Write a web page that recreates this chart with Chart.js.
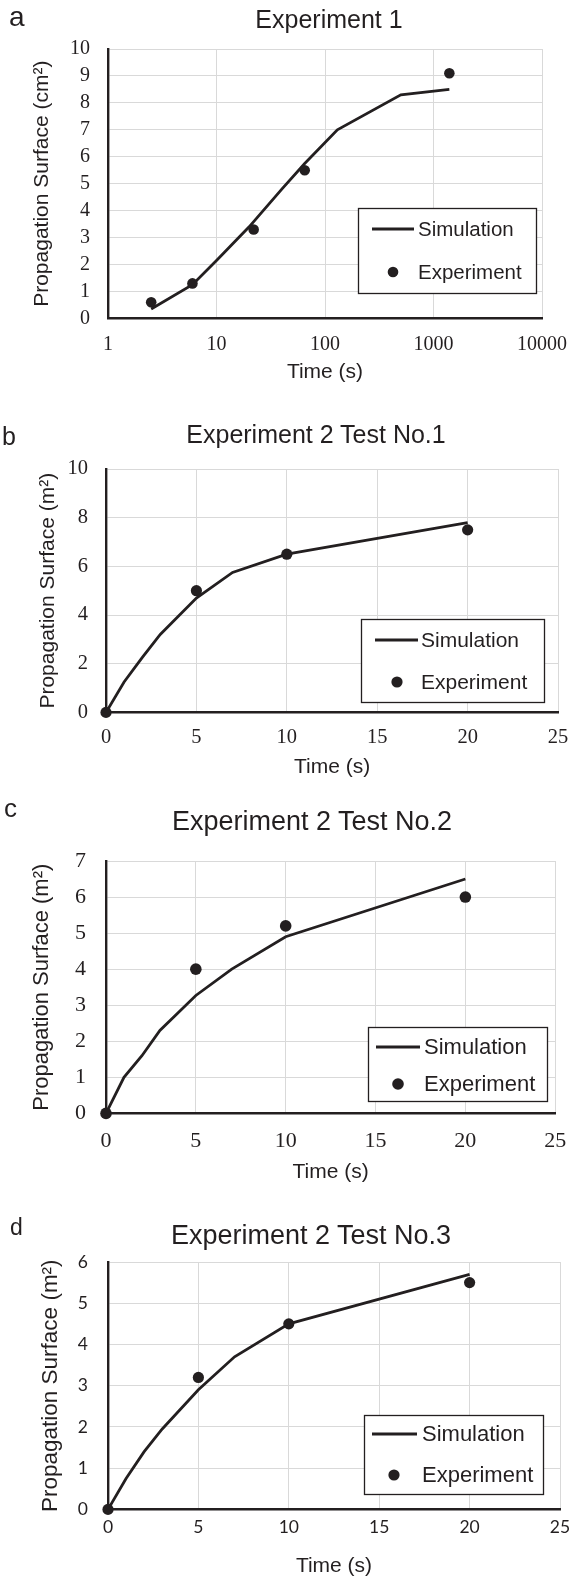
<!DOCTYPE html>
<html><head><meta charset="utf-8">
<script src="https://cdn.jsdelivr.net/npm/chart.js@4.4.0/dist/chart.umd.min.js"></script>
<style>
html,body{margin:0;padding:0;background:#fff}
body{width:581px;height:1579px;position:relative;overflow:hidden;font-family:"Liberation Sans",Arial,sans-serif;color:#231f20}
canvas{position:absolute;left:0}
.t{position:absolute;white-space:nowrap;line-height:1}
</style></head><body>
<script>
// ---------- DATA ----------
// Panel a: Experiment 1 (log time axis)
const ticksA_x = [1, 10, 100, 1000, 10000];
const simA_t = [2.5, 6, 10, 20, 40, 65, 130, 500, 1400];
const simA_s = [0.35, 1.25, 2.15, 3.4, 4.8, 5.75, 7.0, 8.3, 8.5];
const expA_t = [2.5, 6, 22, 65, 1400];
const expA_s = [0.6, 1.3, 3.3, 5.5, 9.1];
// Panel b: Experiment 2 Test No.1
const simB_t = [0, 1, 2, 3, 5, 7, 10, 20];
const simB_s = [0, 1.25, 2.25, 3.2, 4.7, 5.75, 6.5, 7.8];
const expB_t = [0, 5, 10, 20];
const expB_s = [0, 5.0, 6.5, 7.5];
// Panel c: Experiment 2 Test No.2
const simC_t = [0, 1, 2, 3, 5, 7, 10, 20];
const simC_s = [0, 1.0, 1.6, 2.3, 3.27, 4.0, 4.9, 6.5];
const expC_t = [0, 5, 10, 20];
const expC_s = [0, 4.0, 5.2, 6.0];
// Panel d: Experiment 2 Test No.3
const simD_t = [0, 1, 2, 3, 5, 7, 10, 20];
const simD_s = [0, 0.75, 1.4, 1.95, 2.9, 3.7, 4.5, 5.7];
const expD_t = [0, 5, 10, 20];
const expD_s = [0, 3.2, 4.5, 5.5];

const titles = ['Experiment 1', 'Experiment 2 Test No.1', 'Experiment 2 Test No.2', 'Experiment 2 Test No.3'];
const letters = ['a', 'b', 'c', 'd'];
const yTitles = ['Propagation Surface (cm\u00B2)', 'Propagation Surface (m\u00B2)', 'Propagation Surface (m\u00B2)', 'Propagation Surface (m\u00B2)'];
const xTitle = 'Time (s)';
const seriesNames = ['Simulation', 'Experiment'];

const pts = (xs, ys) => xs.map((x, i) => ({x: x, y: ys[i]}));
const INK = '#231f20';

// ---------- LAYOUT (pixels) ----------
const panels = [
  {top:0, H:385, L:108, R:553, T:49, B:316, xType:'logarithmic', xMin:1, xMax:10000, xTicks:ticksA_x,
   yMax:10, yStep:1, tickFam:'"Liberation Serif","Times New Roman",serif', tickSize:20, yPad:18,
   xLabY:342, xTitY:370, xTitSize:21, yTitX:42, yTitSize:21,
   sim:pts(simA_t, simA_s), exp:pts(expA_t, expA_s), r:5.3,
   leg:{x:358, y:208, w:178, h:85, font:20.5, l0:14, l1:56, ly:21, tx:60, dx:35, dy:64},
   title:{x:329, y:19, s:25}, letter:{x:9, b:27, s:28}},
  {top:385, H:395, L:106, R:560, T:469, B:714, xType:'linear', xMin:0, xMax:25, xStep:5,
   yMax:10, yStep:2, tickFam:'"Liberation Serif","Times New Roman",serif', tickSize:20.5, yPad:18,
   xLabY:739, xTitY:769, xTitSize:21, yTitX:48, yTitSize:21,
   sim:pts(simB_t, simB_s), exp:pts(expB_t, expB_s), r:5.6,
   leg:{x:361, y:619, w:183, h:83, font:21, l0:14, l1:57, ly:21, tx:60, dx:36, dy:63},
   title:{x:316, y:434, s:25}, letter:{x:2, b:445, s:25}},
  {top:780, H:405, L:106, R:567, T:861, B:1119, xType:'linear', xMin:0, xMax:25, xStep:5,
   yMax:7, yStep:1, tickFam:'"Liberation Serif","Times New Roman",serif', tickSize:22, yPad:20,
   xLabY:1147, xTitY:1178, xTitSize:21, yTitX:42, yTitSize:22,
   sim:pts(simC_t, simC_s), exp:pts(expC_t, expC_s), r:5.8,
   leg:{x:368, y:1027, w:179, h:74, font:22, l0:8, l1:52, ly:20, tx:56, dx:30, dy:57},
   title:{x:312, y:821, s:27}, letter:{x:4, b:817, s:26}},
  {top:1185, H:394, L:108, R:560, T:1262, B:1508, xType:'linear', xMin:0, xMax:25, xStep:5,
   yMax:6, yStep:1, tickFam:'Lato,"Open Sans",sans-serif', tickSize:17.5, yPad:20,
   xLabY:1526, xTitY:1565, xTitSize:21, yTitX:51, yTitSize:22.5,
   sim:pts(simD_t, simD_s), exp:pts(expD_t, expD_s), r:5.6,
   leg:{x:364, y:1415, w:179, h:79, font:22, l0:8, l1:53, ly:19, tx:58, dx:30, dy:60},
   title:{x:311, y:1235, s:27}, letter:{x:10, b:1235, s:23}}
];

// Legend drawn inside the plot with a framed box
const boxLegend = {
  id: 'boxLegend',
  afterDraw(chart, args, o) {
    const ctx = chart.ctx;
    const g = o.g, top = o.top;
    const x = g.x, y = g.y - top;
    ctx.save();
    ctx.fillStyle = '#fff';
    ctx.fillRect(x, y, g.w, g.h);
    ctx.strokeStyle = INK; ctx.lineWidth = 1.3;
    ctx.strokeRect(x + 0.5, y + 0.5, g.w, g.h);
    const ds = chart.data.datasets;
    const sim = ds.find(d => d.showLine), exp = ds.find(d => !d.showLine);
    ctx.strokeStyle = sim.borderColor; ctx.lineWidth = sim.borderWidth;
    ctx.beginPath(); ctx.moveTo(x + g.l0, y + g.ly); ctx.lineTo(x + g.l1, y + g.ly); ctx.stroke();
    ctx.fillStyle = exp.backgroundColor;
    ctx.beginPath(); ctx.arc(x + g.dx, y + g.dy, exp.pointRadius, 0, Math.PI * 2); ctx.fill();
    ctx.fillStyle = INK;
    ctx.font = g.font + 'px "Liberation Sans", Arial, sans-serif';
    ctx.textBaseline = 'middle'; ctx.textAlign = 'left';
    ctx.fillText(sim.label, x + g.tx, y + g.ly + 1);
    ctx.fillText(exp.label, x + g.tx, y + g.dy + 1);
    ctx.restore();
  }
};

function addText(txt, left, top, size, center) {
  const d = document.createElement('div');
  d.className = 't'; d.textContent = txt;
  d.style.fontSize = size + 'px';
  d.style.left = left + 'px'; d.style.top = top + 'px';
  if (center) d.style.transform = 'translate(-50%,-50%)';
  document.body.appendChild(d);
}

panels.forEach((p, i) => {
  const cv = document.createElement('canvas');
  cv.width = 581; cv.height = p.H;
  cv.style.top = p.top + 'px'; cv.style.width = '581px'; cv.style.height = p.H + 'px';
  document.body.appendChild(cv);

  addText(titles[i], p.title.x, p.title.y, p.title.s, true);
  addText(letters[i], p.letter.x, p.letter.b - 0.8465 * p.letter.s, p.letter.s, false);

  const tickFont = {family: p.tickFam, size: p.tickSize};
  const xLh = p.xTitSize * 1.2, yLh = p.yTitSize * 1.2;
  const xAxisH = (p.xTitY - p.top + xLh / 2) - (p.B - p.top);
  const xTickPad = p.xLabY - p.B - p.tickSize * 0.6;

  const xScale = {
    type: p.xType, min: p.xMin, max: p.xMax, position: 'bottom',
    grid: {color: '#d9d9d9', lineWidth: 1, drawTicks: false},
    border: {display: true, color: INK, width: 2.4},
    ticks: {font: tickFont, color: INK, padding: xTickPad, maxRotation: 0, autoSkip: false,
            callback: v => String(v)},
    title: {display: true, text: xTitle, color: INK, padding: {top: 0, bottom: 0},
            font: {family: '"Liberation Sans", Arial, sans-serif', size: p.xTitSize}},
    afterFit: s => { s.height = xAxisH; }
  };
  if (p.xType === 'logarithmic') {
    xScale.afterBuildTicks = s => { s.ticks = p.xTicks.map(v => ({value: v, major: true})); };
  } else {
    xScale.ticks.stepSize = p.xStep;
  }

  new Chart(cv, {
    type: 'scatter',
    data: {datasets: [
      {label: seriesNames[1], data: p.exp, showLine: false, pointRadius: p.r, pointHoverRadius: p.r,
       backgroundColor: INK, borderColor: INK, borderWidth: 0, clip: false, order: 0},
      {label: seriesNames[0], data: p.sim, showLine: true, pointRadius: 0, borderColor: INK,
       backgroundColor: INK, borderWidth: 2.8, tension: 0, order: 1}
    ]},
    options: {
      responsive: false, animation: false, devicePixelRatio: 1,
      layout: {padding: {left: 0, top: p.T - p.top, right: 581 - p.R, bottom: 0}},
      plugins: {legend: {display: false}, tooltip: {enabled: false}, title: {display: false},
                boxLegend: {g: p.leg, top: p.top}},
      scales: {
        x: xScale,
        y: {
          type: 'linear', min: 0, max: p.yMax,
          grid: {color: '#d9d9d9', lineWidth: 1, drawTicks: false},
          border: {display: true, color: INK, width: 2.4},
          ticks: {stepSize: p.yStep, font: tickFont, color: INK, padding: p.yPad, autoSkip: false},
          title: {display: true, text: yTitles[i], color: INK,
                  padding: {top: p.yTitX - yLh / 2, bottom: 0},
                  font: {family: '"Liberation Sans", Arial, sans-serif', size: p.yTitSize}},
          afterFit: s => { s.width = p.L; }
        }
      }
    },
    plugins: [boxLegend]
  });
});
</script>
</body></html>
